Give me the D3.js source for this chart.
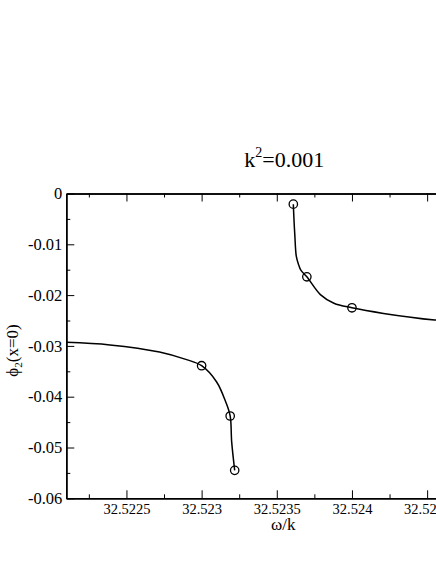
<!DOCTYPE html>
<html>
<head>
<meta charset="utf-8">
<script src="https://cdn.jsdelivr.net/npm/d3@7"></script>
<style>
	body { margin: 0; background: #fff; }
	svg text { font-family: "Liberation Serif", "Tinos", "DejaVu Serif", serif; fill: #000; }
	.axis path, .axis line { stroke: #000; }
</style>
</head>
<body>
<div id="chart"></div>
<script>
// data
// ----------------------------------------
var leftX  = [32.5221, 32.52239, 32.52272, 32.5229, 32.523, 32.5231, 32.52316, 32.52319, 32.5232, 32.52322];
var leftY  = [-0.0293, -0.0298, -0.0312, -0.0327, -0.0339, -0.0371, -0.0410, -0.0438, -0.0489, -0.0545];

var rightX = [32.52361, 32.523615, 32.52362, 32.52363, 32.523645, 32.52366, 32.5237, 32.52379, 32.52388, 32.524, 32.52421, 32.52455, 32.5246];
var rightY = [-0.0021, -0.0055, -0.0082, -0.0124, -0.0140, -0.0151, -0.0164, -0.0199, -0.0216, -0.0225, -0.0236, -0.0249, -0.0250];

// sampled points (circles)
var ptsX = [32.523, 32.52319, 32.52322, 32.52361, 32.5237, 32.524];
var ptsY = [-0.0339, -0.0438, -0.0545, -0.0021, -0.0164, -0.0225];

var xMajor = [32.5225, 32.523, 32.5235, 32.524, 32.5245];
var xMinor = [32.52225, 32.52275, 32.52325, 32.52375, 32.52425, 32.52475];
var yMajor = [0, -0.01, -0.02, -0.03, -0.04, -0.05, -0.06];
var yMinor = [-0.005, -0.015, -0.025, -0.035, -0.045, -0.055];

// main variables
// ----------------------------------------
var width = 436, height = 564;
var margin = {top: 193.5, left: 66.3, right: 502.3, bottom: 498.3};

var svg = d3.select("#chart")
	.append("svg")
	.attr("width", width)
	.attr("height", height);

var x = d3.scaleLinear().domain([32.5221, 32.525]).range([margin.left, margin.right]);
var y = d3.scaleLinear().domain([-0.06, 0]).range([margin.bottom, margin.top]);

function fmtX(d){ return String(+d.toFixed(5)); }
function fmtY(d){ return d === 0 ? "0" : "-" + Math.abs(d).toFixed(2); }

// curves
var line = d3.line()
	.curve(d3.curveCatmullRom.alpha(0.5))
	.x(function(d){ return x(d[0]); })
	.y(function(d){ return y(d[1]); });

var plot = svg.append("g").attr("id", "plot");

[[leftX, leftY], [rightX, rightY]].forEach(function(s){
	plot.append("path")
		.datum(d3.zip(s[0], s[1]))
		.attr("d", line)
		.attr("fill", "none")
		.attr("stroke", "#000")
		.attr("stroke-width", 1.5);
});

plot.selectAll("circle")
	.data(d3.zip(ptsX, ptsY))
	.enter().append("circle")
	.attr("cx", function(d){ return x(d[0]); })
	.attr("cy", function(d){ return y(d[1]); })
	.attr("r", 4.2)
	.attr("fill", "none")
	.attr("stroke", "#000")
	.attr("stroke-width", 1.3);

// axes (ticks inward, like xmgrace)
function addAxis(axisFn, scale, ticks, size, labels, tx, ty, fontSize, pad){
	var a = axisFn(scale)
		.tickValues(ticks)
		.tickSizeInner(-size)
		.tickSizeOuter(0)
		.tickPadding(pad || 5)
		.tickFormat(labels || function(){ return ""; });
	var g = svg.append("g")
		.attr("class", "axis")
		.attr("transform", "translate(" + tx + "," + ty + ")")
		.call(a);
	g.attr("font-family", null);
	g.select(".domain").attr("stroke-width", 1.5);
	g.selectAll(".tick line").attr("stroke-width", 1);
	g.selectAll("text").attr("font-size", fontSize || 14);
	return g;
}

addAxis(d3.axisBottom, x, xMinor, 4, null, 0, margin.bottom);
addAxis(d3.axisBottom, x, xMajor, 8, fmtX, 0, margin.bottom, 14.5, 5);
addAxis(d3.axisTop, x, xMinor, 4, null, 0, margin.top);
addAxis(d3.axisTop, x, xMajor, 8, null, 0, margin.top);
addAxis(d3.axisLeft, y, yMinor, 4, null, margin.left, 0);
addAxis(d3.axisLeft, y, yMajor, 8, fmtY, margin.left, 0, 16.5, 4);
addAxis(d3.axisRight, y, yMinor, 4, null, margin.right, 0);
addAxis(d3.axisRight, y, yMajor, 8, null, margin.right, 0);

// titles
var cx = (margin.left + margin.right) / 2;

var title = svg.append("text")
	.attr("x", cx)
	.attr("y", 166.7)
	.attr("text-anchor", "middle")
	.attr("font-size", 22);
title.append("tspan").text("k");
title.append("tspan").attr("font-size", 14).attr("dy", -10).text("2");
title.append("tspan").attr("dy", 10).text("=0.001");

svg.append("text")
	.attr("x", cx - 1)
	.attr("y", 530)
	.attr("text-anchor", "middle")
	.attr("font-size", 17)
	.text("ω/k");

var ylab = svg.append("text")
	.attr("transform", "translate(18,350.5) rotate(-90)")
	.attr("text-anchor", "middle")
	.attr("font-size", 17);
ylab.append("tspan").text("ϕ");
ylab.append("tspan").attr("font-size", 11).attr("dy", 4).text("2");
ylab.append("tspan").attr("dy", -4).text("(x=0)");
</script>
</body>
</html>
